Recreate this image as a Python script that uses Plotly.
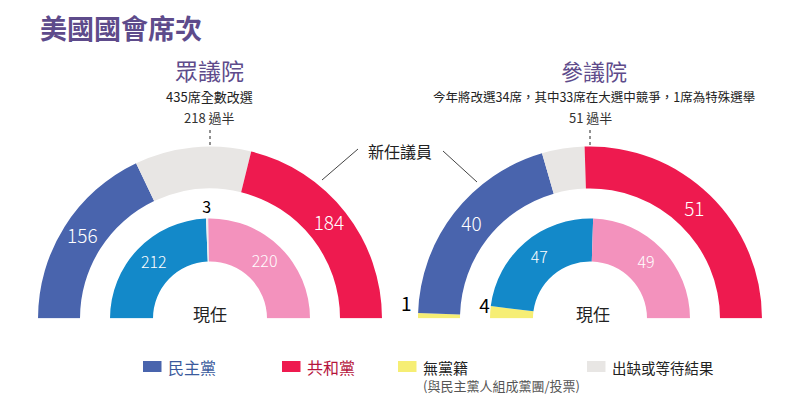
import plotly.graph_objects as go

# ---- data ----
house_parties = ["民主黨", "出缺或等待結果", "共和黨"]
house_new = [156, 95, 184]
house_current_parties = ["民主黨", "出缺", "共和黨"]
house_current = [212, 3, 220]

senate_parties = ["無黨籍", "民主黨", "出缺或等待結果", "共和黨"]
senate_new = [1, 40, 8, 51]
senate_current_parties = ["無黨籍", "民主黨", "共和黨"]
senate_current = [4, 47, 49]

house_majority = "218 過半"
senate_majority = "51 過半"

outer_colors = {"民主黨": "#4964ad", "共和黨": "#ee1a4f", "出缺或等待結果": "#e8e6e4", "無黨籍": "#f6ee74"}
inner_colors = {"民主黨": "#1389c9", "共和黨": "#f392bd", "出缺": "#eeeeee", "無黨籍": "#f6ee74"}

FONT = "Noto Sans CJK TC, Noto Sans, sans-serif"
# the page body has an 8px margin, so the figure is drawn a bit smaller and shifted
OFF = 8
W, H = 800 - OFF, 406 - OFF


def px(x):
    return (x - OFF) / W


def py(y):
    return 1 - (y - OFF) / H


def segments(values):
    # seat counts -> centre angle and angular width on a half circle (180 -> 0)
    total = sum(values)
    thetas, widths, acc = [], [], 0
    for v in values:
        w = v * 180 / total
        thetas.append(180 - acc - w / 2)
        widths.append(w)
        acc += w
    return thetas, widths


def ring(fig, values, parties, colors, r0, r1, polar):
    thetas, widths = segments(values)
    fig.add_trace(go.Barpolar(
        theta=thetas, width=widths, r=[r1 - r0] * len(values), base=r0,
        marker=dict(color=[colors[p] for p in parties], line=dict(width=0)),
        subplot=polar, hoverinfo="skip", showlegend=False))
    return thetas


def labels(fig, thetas, rs, texts, color, size, polar, weight=400):
    fig.add_trace(go.Scatterpolar(
        theta=thetas, r=rs, text=texts, mode="text", cliponaxis=False,
        textfont=dict(color=color, size=size, family=FONT, weight=weight),
        subplot=polar, hoverinfo="skip", showlegend=False))


fig = go.Figure()

R_OUT0, R_OUT1 = 130, 172
R_IN0, R_IN1 = 57, 100
R_MAX = 190  # radial range (1 unit = 1 px)

# House
t = ring(fig, house_new, house_parties, outer_colors, R_OUT0, R_OUT1, "polar")
labels(fig, [t[0], t[2]], [151, 151], [house_new[0], house_new[2]], "white", 19, "polar", 300)
t = ring(fig, house_current, house_current_parties, inner_colors, R_IN0, R_IN1, "polar")
labels(fig, [t[0], t[2]], [78, 78], [house_current[0], house_current[2]], "white", 16, "polar", 300)
labels(fig, [t[1]], [110], [house_current[1]], "black", 16, "polar")

# Senate
t = ring(fig, senate_new, senate_parties, outer_colors, R_OUT0, R_OUT1, "polar2")
labels(fig, [t[1], t[3]], [150, 150], [senate_new[1], senate_new[3]], "white", 19, "polar2", 300)
labels(fig, [t[0] - 2.8], [184], [senate_new[0]], "black", 19, "polar2")
t = ring(fig, senate_current, senate_current_parties, inner_colors, R_IN0, R_IN1, "polar2")
labels(fig, [t[1], t[2]], [78, 78], [senate_current[1], senate_current[2]], "white", 16, "polar2", 300)
labels(fig, [t[0] - 2], [106], [senate_current[0]], "black", 19, "polar2")

polar_style = dict(
    sector=[0, 180], hole=0, bgcolor="rgba(0,0,0,0)",
    radialaxis=dict(range=[0, R_MAX], visible=False),
    angularaxis=dict(visible=False, rotation=0, direction="counterclockwise"))


def dom(cx, cy):
    return dict(x=[px(cx - R_MAX), px(cx + R_MAX)], y=[py(cy), py(cy - R_MAX)])


fig.update_layout(
    width=W, height=H, margin=dict(l=0, r=0, t=0, b=0),
    paper_bgcolor="white", plot_bgcolor="white",
    font=dict(family=FONT, color="#222"),
    polar=dict(domain=dom(210, 318.5), **polar_style),
    polar2=dict(domain=dom(590, 318.5), **polar_style),
)

ann = []


def note(x, y, text, size, color="#222", anchor="center"):
    ann.append(dict(x=px(x), y=py(y), xref="paper", yref="paper", text=text, showarrow=False,
                    xanchor=anchor, yanchor="middle", font=dict(size=size, color=color, family=FONT)))


note(38, 27, "<b>美國國會席次</b>", 27, "#5e4b8b", "left")
note(210, 70, "眾議院", 23, "#5e4b8b")
note(210, 96, "435席全數改選", 13)
note(210, 118, house_majority, 13, "#333")
note(594, 70, "參議院", 22, "#5e4b8b")
note(594, 96, "今年將改選34席，其中33席在大選中競爭，1席為特殊選舉", 12.5)
note(590, 118, senate_majority, 13, "#333")
note(400, 151, "新任議員", 16)
note(210, 313, "現任", 17)
note(593, 313, "現任", 17)

# legend
legend_items = [("民主黨", outer_colors["民主黨"], "#3a5a9c", 143, 16),
                ("共和黨", outer_colors["共和黨"], "#b5143c", 282, 16),
                ("無黨籍", outer_colors["無黨籍"], "#222", 398, 15),
                ("出缺或等待結果", outer_colors["出缺或等待結果"], "#222", 587, 14.5)]
shapes = []
for name, sq, tc, x0, fs in legend_items:
    shapes.append(dict(type="rect", xref="paper", yref="paper", x0=px(x0), x1=px(x0 + 18.5),
                       y0=py(372), y1=py(361), fillcolor=sq, line=dict(width=0)))
    note(x0 + 23, 367, name, fs, tc, "left")
note(421, 385, "(與民主黨人組成黨團/投票)", 13, "#555", "left")

# majority dotted lines and callout lines
for x in (210, 590):
    shapes.append(dict(type="line", xref="paper", yref="paper", x0=px(x), x1=px(x),
                       y0=py(130), y1=py(147), line=dict(color="#222", width=1, dash="dot")))
shapes.append(dict(type="line", xref="paper", yref="paper", x0=px(358), x1=px(322),
                   y0=py(149), y1=py(180), line=dict(color="#444", width=1)))
shapes.append(dict(type="line", xref="paper", yref="paper", x0=px(443), x1=px(477),
                   y0=py(151), y1=py(182), line=dict(color="#444", width=1)))

fig.update_layout(annotations=ann, shapes=shapes)
fig.write_html("out.html")
